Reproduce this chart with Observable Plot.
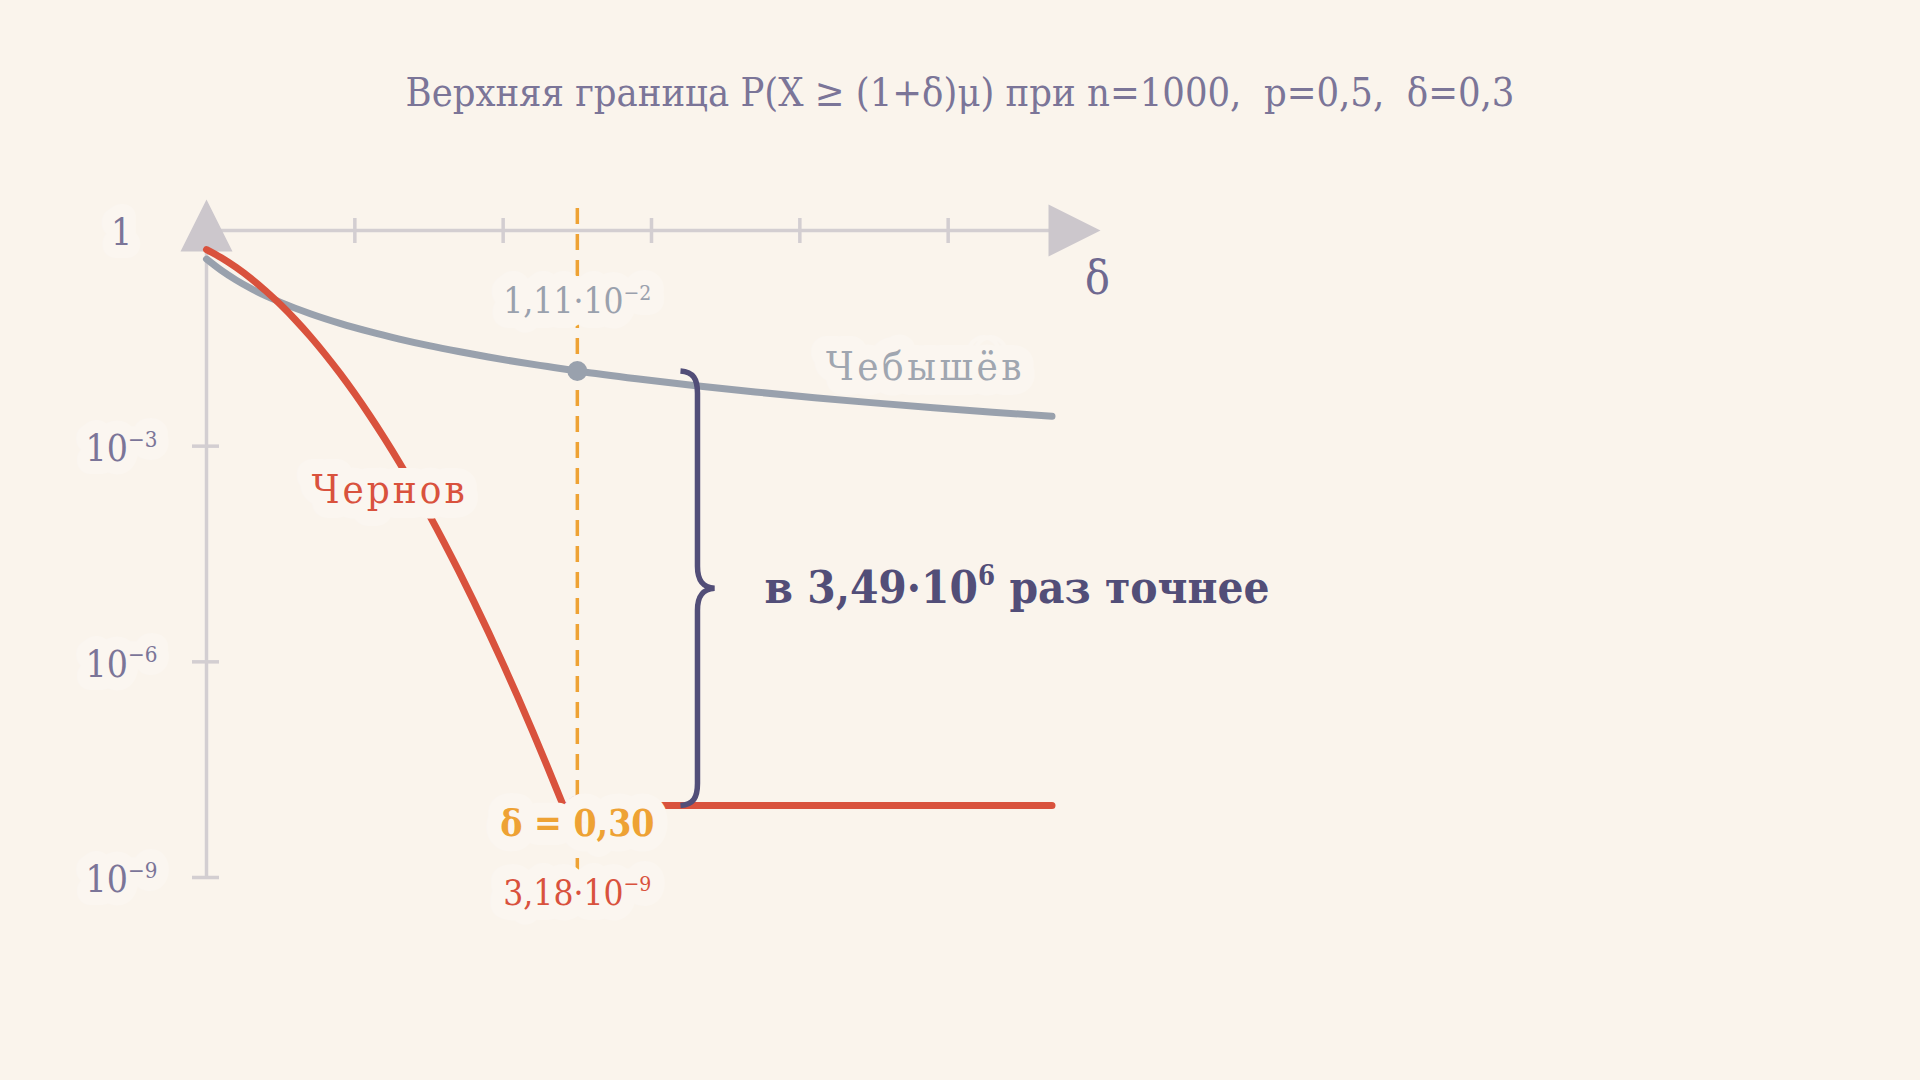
<!DOCTYPE html>
<html><head><meta charset="utf-8">
<script src="https://cdn.jsdelivr.net/npm/d3@7"></script>
<script src="https://cdn.jsdelivr.net/npm/@observablehq/plot@0.6"></script>
<style>
html,body{margin:0;padding:0;background:#faf4ec;}
body{width:1920px;height:1080px;position:relative;overflow:hidden;font-family:"DejaVu Serif Condensed","DejaVu Serif",serif;font-stretch:condensed;}
#title{position:absolute;left:0;top:68px;width:1920px;text-align:center;font-size:39.5px;line-height:48px;color:#7b7598;white-space:pre;}
#chart{position:absolute;left:0;top:0;}
</style></head>
<body>
<div id="title">Верхняя граница P(X ≥ (1+δ)μ) при n=1000,  p=0,5,  δ=0,3</div>
<div id="chart"></div>
<script>
// ---- data ----
const chebDeltas = [0.05,0.06,0.07,0.08,0.09,0.10,0.12,0.14,0.16,0.18,0.20,0.22,0.24,0.26,0.28,0.30,0.34,0.38,0.42,0.46,0.50,0.54,0.58,0.62];
const chebValues = [0.4,0.278,0.204,0.156,0.123,0.1,0.0694,0.051,0.0391,0.0309,0.025,0.0207,0.0174,0.0148,0.0128,0.0111,0.00865,0.00693,0.00567,0.00473,0.004,0.00343,0.00297,0.0026];
const chernDeltas = [0.05,0.06,0.07,0.08,0.09,0.10,0.11,0.12,0.13,0.14,0.15,0.16,0.17,0.18,0.19,0.20,0.21,0.22,0.23,0.24,0.25,0.26,0.27,0.28,0.29,0.2905,0.30,0.40,0.50,0.62];
const chernValues = [0.5434,0.4174,0.3062,0.2147,0.144,0.0925,0.05686,0.03351,0.01893,0.01026,0.005342,0.00267,0.001283,0.000593,0.000263,0.0001126,0.0000464,0.0000184,0.00000705,0.00000261,0.000000929,0.00000032,0.000000106,0.0000000341,0.0000000106,1e-8,1e-8,1e-8,1e-8,1e-8];
const xTicks = [0.15,0.25,0.35,0.45,0.55];
const yTicks = [1,1e-3,1e-6,1e-9];
const yTickLabels = ["1","10⁻³","10⁻⁶","10⁻⁹"];
const markDelta = 0.3;
const chebAtMark = 0.0111;
const chernAtMark = 3.18e-9;
const chernFloor = 1e-8;
const ratio = "3,49·10⁶";
const chebLabel = "Чебышёв";
const chernLabel = "Чернов";

// ---- build ----
const cheb = chebDeltas.map((d,i)=>({d, v: chebValues[i]}));
const chern = chernDeltas.map((d,i)=>({d, v: chernValues[i]}));

const BG = "#faf4ec", HALO = "#fbf6f0";
const AX = "#d3ced1", LBL = "#7b7598", GREY = "#99a1ad", RED = "#d9523d", ORANGE = "#eea234", PURPLE = "#524e78";
const FONT = "'DejaVu Serif Condensed','DejaVu Serif',serif";

const arrowUp = {draw(c){ c.moveTo(0,-31); c.lineTo(26,21); c.lineTo(-26,21); c.closePath(); }};
const arrowRight = {draw(c){ c.moveTo(4,0); c.lineTo(-48,-26); c.lineTo(-48,26); c.closePath(); }};

function braceCurve(context){
  let pts = [];
  return {
    lineStart(){ pts = []; },
    point(x,y){ pts.push([x,y]); },
    lineEnd(){
      const x = pts[0][0];
      const t = Math.min(pts[0][1], pts[1][1]), b = Math.max(pts[0][1], pts[1][1]), m = (t+b)/2;
      const w = 17, r = 22;
      context.moveTo(x - w, t);
      context.bezierCurveTo(x - 4, t + 1, x, t + 8, x, t + r);
      context.lineTo(x, m - r);
      context.bezierCurveTo(x, m - 8, x + 5, m - 1, x + w, m);
      context.bezierCurveTo(x + 5, m + 1, x, m + 8, x, m + r);
      context.lineTo(x, b - r);
      context.bezierCurveTo(x, b - 8, x - 4, b - 1, x - w, b);
    },
    areaStart(){}, areaEnd(){}
  };
}

function haloText(data, opts, sw = 30){
  return [
    Plot.text(data, {...opts, fill: HALO, stroke: HALO, strokeWidth: sw, strokeLinejoin: "round", ariaLabel: "halo"}),
    Plot.text(data, opts)
  ];
}

const braceDelta = 0.381;
const mid = Math.sqrt(chebAtMark * chernFloor);

const plot = Plot.plot({
  width: 1920, height: 1080,
  marginLeft: 206, marginRight: 824, marginTop: 230, marginBottom: 203,
  x: {type: "linear", domain: [0.05, 0.65], axis: null},
  y: {type: "log", domain: [1e-9, 1], axis: null},
  style: {background: "transparent", fontFamily: FONT, overflow: "visible"},
  marks: [
    // axes
    Plot.ruleY([1], {x1: 0.05, x2: 0.65, stroke: AX, strokeWidth: 3.5}),
    Plot.ruleX(xTicks, {x: d=>d, y1: 1, y2: 1, insetTop: -12, insetBottom: -13, stroke: AX, strokeWidth: 3.5}),
    Plot.ruleX([0.05], {y1: 1e-9, y2: 1, stroke: AX, strokeWidth: 3.5}),
    Plot.ruleY(yTicks.slice(1), {y: d=>d, x1: 0.05, x2: 0.05, insetLeft: -14, insetRight: -13, stroke: AX, strokeWidth: 3.5}),
    Plot.dot([0], {x: 0.05, y: 1, symbol: arrowUp, r: 10, fill: "#ccc7cc", stroke: "none"}),
    Plot.dot([0], {x: 0.65, y: 1, symbol: arrowRight, r: 10, fill: "#ccc7cc", stroke: "none"}),
    ...haloText(yTicks, {x: 0.05, y: d=>d, text: (d,i)=>yTickLabels[i], dx: -85, dy: 3, fontSize: 37, fill: LBL, textAnchor: "middle"}, 26),
    Plot.text(["δ"], {x: 0.65, y: 1, dx: 1, dy: 49, fontSize: 46, fill: "#6e6890", textAnchor: "middle"}),
    // marker line
    Plot.ruleX([markDelta], {y1: 2.02, y2: 8.9e-10, stroke: ORANGE, strokeWidth: 3.5, strokeDasharray: "16,10"}),
    // curves
    Plot.line(cheb, {x: "d", y: "v", stroke: GREY, strokeWidth: 7, curve: "monotone-x"}),
    Plot.line(chern, {x: "d", y: "v", stroke: RED, strokeWidth: 7, curve: "monotone-x"}),
    Plot.dot([0], {x: markDelta, y: chernFloor, r: 10, fill: RED, stroke: "none"}),
    // labels with halos
    ...haloText([chernLabel], {x: 0.1735, y: 2.47e-4, text: d=>d, fontSize: 40, fill: RED, textAnchor: "middle"}),
    ...haloText([chebLabel], {x: 0.5347, y: 0.00343, dy: -40, text: d=>d, fontSize: 40, fill: "#a0a6b0", textAnchor: "middle"}),
    ...haloText([chebAtMark], {x: markDelta, y: chebAtMark, dy: -69, text: ()=>"1,11·10⁻²", fontSize: 35, fill: "#9aa1ad", textAnchor: "middle"}),
    ...haloText([markDelta], {x: markDelta, y: chernFloor, dy: 19, text: ()=>"δ = 0,30", fontSize: 37, fontWeight: "bold", fill: ORANGE, textAnchor: "middle"}),
    ...haloText([chernAtMark], {x: markDelta, y: chernFloor, dy: 88, text: ()=>"3,18·10⁻⁹", fontSize: 35, fill: RED, textAnchor: "middle"}),
    Plot.dot([0], {x: markDelta, y: chebAtMark, r: 10, fill: GREY, stroke: "none"}),
    // brace + ratio
    Plot.link([0], {x1: braceDelta, x2: braceDelta, y1: chebAtMark, y2: chernFloor, curve: braceCurve, stroke: PURPLE, strokeWidth: 5.5}),
    Plot.text([ratio], {x: braceDelta, y: mid, dx: 67, text: d=>`в ${d} раз точнее`, fontSize: 45.5, fontWeight: "bold", fill: PURPLE, textAnchor: "start"})
  ]
});
plot.querySelectorAll('g[aria-label="halo"]').forEach(g => { g.style.filter = "blur(6px)"; });
document.getElementById("chart").appendChild(plot);

// letter spacing for the series labels
plot.querySelectorAll("text").forEach(t => {
  if (t.textContent === chebLabel) t.style.letterSpacing = "3.5px";
  if (t.textContent === chernLabel) t.style.letterSpacing = "3px";
});

// render unicode superscripts as real superscript tspans
const SUPMAP = {"⁻":"−","⁰":"0","¹":"1","²":"2","³":"3","⁴":"4","⁵":"5","⁶":"6","⁷":"7","⁸":"8","⁹":"9"};
const supRe = /^([^⁻⁰¹²³⁴⁵⁶⁷⁸⁹]*)([⁻⁰¹²³⁴⁵⁶⁷⁸⁹]+)(.*)$/;
plot.querySelectorAll("text").forEach(t => {
  const m = t.textContent.match(supRe);
  if (!m) return;
  const fs = parseFloat(getComputedStyle(t).fontSize) || 36;
  const raise = fs * 0.39;
  const ns = "http://www.w3.org/2000/svg";
  t.textContent = "";
  const a = document.createElementNS(ns, "tspan"); a.textContent = m[1]; t.appendChild(a);
  const s = document.createElementNS(ns, "tspan");
  s.textContent = [...m[2]].map(c => SUPMAP[c]).join("");
  s.setAttribute("font-size", (fs * 0.6).toFixed(2));
  s.setAttribute("dy", (-raise).toFixed(2));
  t.appendChild(s);
  if (m[3]) {
    const r = document.createElementNS(ns, "tspan"); r.textContent = m[3];
    r.setAttribute("dy", raise.toFixed(2)); t.appendChild(r);
  }
});
</script>
</body></html>
